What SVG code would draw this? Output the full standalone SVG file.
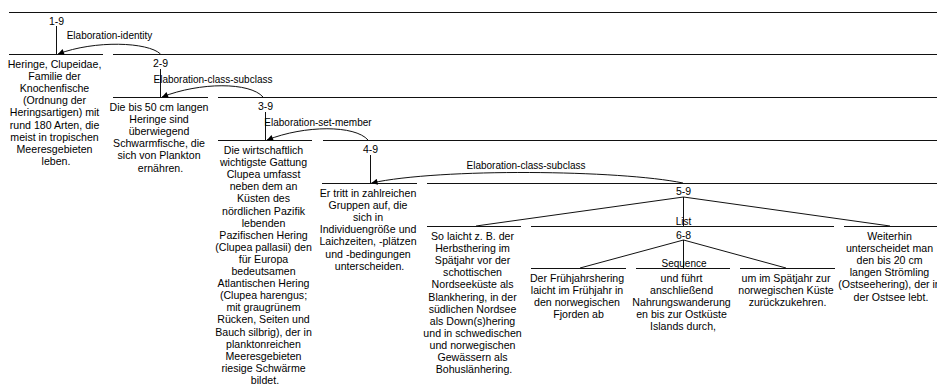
<svg xmlns="http://www.w3.org/2000/svg" width="937" height="387" viewBox="0 0 937 387">
  <style>
    .ln { stroke: #111; stroke-width: 1; fill: none; }
    .arc { stroke: #111; stroke-width: 1; fill: none; marker-end: url(#arrow); }
    text { font-family: "Liberation Sans", Arial, sans-serif; fill: #000; text-anchor: middle; }
    .seg { font-size: 10.6px; }
    .span { font-size: 10.5px; }
    .rel { font-size: 10px; }
  </style>
  <defs>
    <marker id="arrow" viewBox="0 0 10 10" refX="10" refY="5" markerWidth="8" markerHeight="6" markerUnits="userSpaceOnUse" orient="auto">
      <path d="M0,0 L10,5 L0,10 Z" fill="#000"/>
    </marker>
  </defs>
  <rect width="937" height="387" fill="#fff"/>

  <!-- span nodes: horizontal bar + range label -->
  <g id="span-1-9">
    <line class="ln" x1="9" y1="12.5" x2="937" y2="12.5"/>
    <text class="span" x="56.5" y="24.5">1-9</text>
  </g>
  <g id="span-2-9">
    <line class="ln" x1="113" y1="54.5" x2="937" y2="54.5"/>
    <text class="span" x="160.5" y="67">2-9</text>
  </g>
  <g id="span-3-9">
    <line class="ln" x1="218" y1="97.5" x2="937" y2="97.5"/>
    <text class="span" x="265.5" y="109.5">3-9</text>
  </g>
  <g id="span-4-9">
    <line class="ln" x1="323" y1="140.5" x2="937" y2="140.5"/>
    <text class="span" x="370.5" y="152.5">4-9</text>
  </g>
  <g id="span-5-9">
    <line class="ln" x1="427" y1="183.5" x2="937" y2="183.5"/>
    <text class="span" x="683.5" y="195">5-9</text>
  </g>
  <g id="span-6-8">
    <line class="ln" x1="531" y1="226.5" x2="834" y2="226.5"/>
    <text class="span" x="683.5" y="238.5">6-8</text>
  </g>

  <!-- elementary segments -->
  <g id="seg-1">
    <line class="ln" x1="9" y1="54.5" x2="103" y2="54.5"/>
    <text class="seg" x="56" y="68">
      <tspan x="56" dy="0">Heringe, Clupeidae,</tspan>
      <tspan x="56" dy="12.1">Familie der</tspan>
      <tspan x="56" dy="12.1">Knochenfische</tspan>
      <tspan x="56" dy="12.1">(Ordnung der</tspan>
      <tspan x="56" dy="12.1">Heringsartigen) mit</tspan>
      <tspan x="56" dy="12.1">rund 180 Arten, die</tspan>
      <tspan x="56" dy="12.1">meist in tropischen</tspan>
      <tspan x="56" dy="12.1">Meeresgebieten</tspan>
      <tspan x="56" dy="12.1">leben.</tspan>
    </text>
  </g>
  <g id="seg-2">
    <line class="ln" x1="113" y1="97.5" x2="208" y2="97.5"/>
    <text class="seg" x="160.5" y="111">
      <tspan x="160.5" dy="0">Die bis 50 cm langen</tspan>
      <tspan x="160.5" dy="12.1">Heringe sind</tspan>
      <tspan x="160.5" dy="12.1">überwiegend</tspan>
      <tspan x="160.5" dy="12.1">Schwarmfische, die</tspan>
      <tspan x="160.5" dy="12.1">sich von Plankton</tspan>
      <tspan x="160.5" dy="12.1">ernähren.</tspan>
    </text>
  </g>
  <g id="seg-3">
    <line class="ln" x1="218" y1="140.5" x2="312" y2="140.5"/>
    <text class="seg" x="265" y="154">
      <tspan x="265" dy="0">Die wirtschaftlich</tspan>
      <tspan x="265" dy="12.1">wichtigste Gattung</tspan>
      <tspan x="265" dy="12.1">Clupea umfasst</tspan>
      <tspan x="265" dy="12.1">neben dem an</tspan>
      <tspan x="265" dy="12.1">Küsten des</tspan>
      <tspan x="265" dy="12.1">nördlichen Pazifik</tspan>
      <tspan x="265" dy="12.1">lebenden</tspan>
      <tspan x="265" dy="12.1">Pazifischen Hering</tspan>
      <tspan x="265" dy="12.1">(Clupea pallasii) den</tspan>
      <tspan x="265" dy="12.1">für Europa</tspan>
      <tspan x="265" dy="12.1">bedeutsamen</tspan>
      <tspan x="265" dy="12.1">Atlantischen Hering</tspan>
      <tspan x="265" dy="12.1">(Clupea harengus;</tspan>
      <tspan x="265" dy="12.1">mit graugrünem</tspan>
      <tspan x="265" dy="12.1">Rücken, Seiten und</tspan>
      <tspan x="265" dy="12.1">Bauch silbrig), der in</tspan>
      <tspan x="265" dy="12.1">planktonreichen</tspan>
      <tspan x="265" dy="12.1">Meeresgebieten</tspan>
      <tspan x="265" dy="12.1">riesige Schwärme</tspan>
      <tspan x="265" dy="12.1">bildet.</tspan>
    </text>
  </g>
  <g id="seg-4">
    <line class="ln" x1="322" y1="183.5" x2="417" y2="183.5"/>
    <text class="seg" x="369.5" y="197">
      <tspan x="369.5" dy="0">Er tritt in zahlreichen</tspan>
      <tspan x="369.5" dy="12.1">Gruppen auf, die</tspan>
      <tspan x="369.5" dy="12.1">sich in</tspan>
      <tspan x="369.5" dy="12.1">Individuengröße und</tspan>
      <tspan x="369.5" dy="12.1">Laichzeiten, -plätzen</tspan>
      <tspan x="369.5" dy="12.1">und -bedingungen</tspan>
      <tspan x="369.5" dy="12.1">unterscheiden.</tspan>
    </text>
  </g>
  <g id="seg-5">
    <line class="ln" x1="427" y1="226.5" x2="521" y2="226.5"/>
    <text class="seg" x="474" y="240">
      <tspan x="474" dy="0">So laicht z. B. der</tspan>
      <tspan x="474" dy="12.1">Herbsthering im</tspan>
      <tspan x="474" dy="12.1">Spätjahr vor der</tspan>
      <tspan x="474" dy="12.1">schottischen</tspan>
      <tspan x="474" dy="12.1">Nordseeküste als</tspan>
      <tspan x="474" dy="12.1">Blankhering, in der</tspan>
      <tspan x="474" dy="12.1">südlichen Nordsee</tspan>
      <tspan x="474" dy="12.1">als Down(s)hering</tspan>
      <tspan x="474" dy="12.1">und in schwedischen</tspan>
      <tspan x="474" dy="12.1">und norwegischen</tspan>
      <tspan x="474" dy="12.1">Gewässern als</tspan>
      <tspan x="474" dy="12.1">Bohuslänhering.</tspan>
    </text>
  </g>
  <g id="seg-6">
    <line class="ln" x1="531" y1="268.5" x2="626" y2="268.5"/>
    <text class="seg" x="578.5" y="282">
      <tspan x="578.5" dy="0">Der Frühjahrshering</tspan>
      <tspan x="578.5" dy="12.1">laicht im Frühjahr in</tspan>
      <tspan x="578.5" dy="12.1">den norwegischen</tspan>
      <tspan x="578.5" dy="12.1">Fjorden ab</tspan>
    </text>
  </g>
  <g id="seg-7">
    <line class="ln" x1="636" y1="268.5" x2="730" y2="268.5"/>
    <text class="seg" x="683" y="282">
      <tspan x="683" dy="0">und führt</tspan>
      <tspan x="683" dy="12.1">anschließend</tspan>
      <tspan x="683" dy="12.1">Nahrungswanderung</tspan>
      <tspan x="683" dy="12.1">en bis zur Ostküste</tspan>
      <tspan x="683" dy="12.1">Islands durch,</tspan>
    </text>
  </g>
  <g id="seg-8">
    <line class="ln" x1="740" y1="268.5" x2="835" y2="268.5"/>
    <text class="seg" x="787.5" y="282">
      <tspan x="787.5" dy="0">um im Spätjahr zur</tspan>
      <tspan x="787.5" dy="12.1">norwegischen Küste</tspan>
      <tspan x="787.5" dy="12.1">zurückzukehren.</tspan>
    </text>
  </g>
  <g id="seg-9">
    <line class="ln" x1="844" y1="226.5" x2="937" y2="226.5"/>
    <text class="seg" x="891" y="240">
      <tspan x="891" dy="0">Weiterhin</tspan>
      <tspan x="891" dy="12.1">unterscheidet man</tspan>
      <tspan x="891" dy="12.1">den bis 20 cm</tspan>
      <tspan x="891" dy="12.1">langen Strömling</tspan>
      <tspan x="891" dy="12.1">(Ostseehering), der in</tspan>
      <tspan x="891" dy="12.1">der Ostsee lebt.</tspan>
    </text>
  </g>

  <!-- connectors: nucleus stems, satellite arcs, multinuclear fans -->
  <g id="connectors">
    <line class="ln" x1="56.5" y1="26" x2="56.5" y2="54"/>
    <line class="ln" x1="160.5" y1="69" x2="160.5" y2="97"/>
    <line class="ln" x1="265.5" y1="112" x2="265.5" y2="140"/>
    <line class="ln" x1="370.5" y1="155" x2="370.5" y2="183"/>

    <path class="arc" d="M160.5,54 C148,42 95,40 58,54"/>
    <path class="arc" d="M263,97 C250,82 200,82 162,97"/>
    <path class="arc" d="M368,140 C355,125 305,125 267,140"/>
    <path class="arc" d="M683,183 C620,170 440,168 371.5,183"/>

    <line class="ln" x1="683.5" y1="197" x2="476" y2="226"/>
    <line class="ln" x1="683.5" y1="197" x2="683.5" y2="226"/>
    <line class="ln" x1="683.5" y1="197" x2="890" y2="226"/>
    <line class="ln" x1="683.5" y1="240" x2="580" y2="268"/>
    <line class="ln" x1="683.5" y1="240" x2="683.5" y2="268"/>
    <line class="ln" x1="683.5" y1="240" x2="786" y2="268"/>

    <text class="rel" x="109.5" y="39">Elaboration-identity</text>
    <text class="rel" x="213" y="82.5">Elaboration-class-subclass</text>
    <text class="rel" x="318" y="126">Elaboration-set-member</text>
    <text class="rel" x="526" y="168.5">Elaboration-class-subclass</text>
    <text class="rel" x="683.5" y="224.5">List</text>
    <text class="rel" x="684" y="266.5">Sequence</text>
  </g>
</svg>
